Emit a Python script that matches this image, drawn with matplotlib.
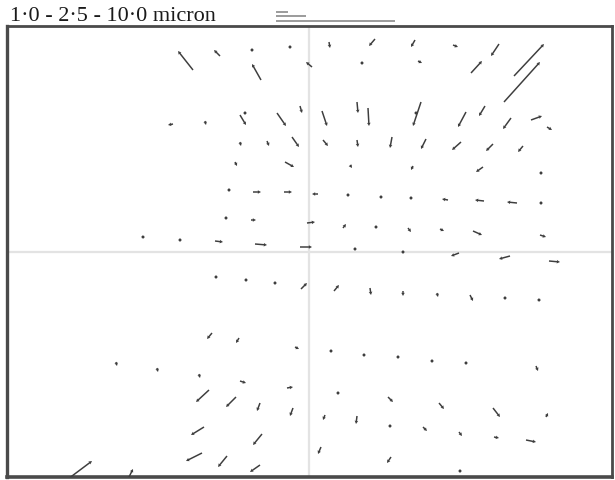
import matplotlib
matplotlib.use("Agg")
import matplotlib.pyplot as plt
import numpy as np

# Tail (x0, y0) and head (x1, y1) of each displacement vector, in image-pixel units
tails_x = [193, 220, 252, 290, 261, 312, 173, 205, 240, 245, 277, 300, 240, 267, 292, 235, 285, 229, 253, 284,
           226, 251, 143, 180, 215, 255, 300,
           329, 375, 415, 453, 499, 514, 504, 362, 418, 471, 322, 357, 368, 421, 416, 466, 485, 511, 531, 547,
           323, 357, 392, 426, 461, 493, 523, 350, 413, 483, 541, 318, 348, 381, 411, 448, 484, 517, 541,
           307, 343, 376, 408, 440, 473, 540, 355,
           403, 459, 510, 549, 301, 334, 370, 403, 437, 470, 505, 539, 331, 364, 398, 432, 466, 536,
           338, 388, 439, 493, 546, 325, 357, 390, 423, 459, 494, 526, 321, 391, 460,
           216, 246, 275, 212, 239, 295, 116, 157, 199, 240, 287, 209, 236, 260, 293, 204, 262, 202, 227, 260,
           60, 127]
tails_y = [71, 57, 51, 48, 81, 68, 125, 122, 116, 114, 114, 107, 143, 142, 138, 163, 163, 191, 193, 193,
           219, 221, 238, 241, 242, 245, 248,
           43, 40, 41, 46, 45, 77, 103, 64, 62, 74, 112, 103, 109, 103, 114, 113, 107, 119, 121, 128,
           141, 141, 138, 140, 143, 145, 147, 166, 167, 168, 174, 195, 196, 198, 199, 201, 202, 204, 204,
           224, 229, 228, 229, 230, 232, 236, 250,
           253, 254, 257, 262, 290, 292, 289, 292, 294, 296, 299, 301, 352, 356, 358, 362, 364, 367,
           394, 398, 404, 409, 418, 416, 417, 427, 428, 433, 438, 441, 448, 458, 472,
           278, 281, 284, 334, 339, 348, 363, 369, 375, 382, 389, 391, 398, 404, 409, 428, 435, 454, 457, 466,
           486, 482]
heads_x = [178, 214, 252, 290, 252, 306, 168, 206, 246, 245, 286, 302, 241, 269, 299, 237, 294, 229, 261, 292,
           226, 256, 146, 183, 223, 267, 312,
           330, 369, 411, 458, 491, 544, 540, 362, 422, 482, 327, 358, 369, 413, 416, 458, 479, 503, 542, 552,
           328, 358, 390, 421, 452, 486, 518, 352, 411, 476, 541, 312, 348, 381, 411, 442, 475, 507, 541,
           315, 346, 376, 411, 444, 482, 546, 355,
           403, 451, 499, 560, 307, 339, 371, 403, 438, 473, 505, 542, 331, 364, 398, 432, 466, 538,
           338, 393, 444, 500, 548, 323, 356, 393, 427, 462, 499, 536, 318, 387, 460,
           216, 246, 275, 207, 236, 299, 117, 158, 200, 246, 293, 196, 226, 257, 290, 191, 253, 186, 218, 250,
           92, 133]
heads_y = [52, 51, 51, 48, 65, 63, 126, 126, 126, 114, 127, 114, 147, 147, 148, 167, 168, 191, 193, 193,
           219, 221, 239, 241, 243, 246, 248,
           49, 47, 48, 48, 57, 45, 63, 64, 64, 62, 127, 114, 127, 127, 114, 128, 117, 130, 117, 131,
           147, 148, 149, 150, 151, 152, 153, 169, 171, 173, 174, 195, 196, 198, 199, 200, 201, 203, 204,
           223, 225, 228, 233, 232, 236, 238, 250,
           253, 257, 260, 263, 284, 286, 296, 297, 298, 302, 299, 302, 352, 356, 358, 362, 364, 372,
           394, 403, 410, 418, 414, 421, 425, 427, 432, 437, 439, 443, 455, 464, 472,
           278, 281, 284, 340, 344, 350, 367, 373, 379, 384, 388, 403, 408, 412, 417, 436, 446, 462, 468, 473,
           462, 470]

legend_lengths = [1.0, 2.5, 10.0]       # microns
px_per_micron = 11.9
title = "1\u00b70 - 2\u00b75 - 10\u00b70 micron"

x0 = np.array(tails_x, float)
y0 = np.array(tails_y, float)
u = np.array(heads_x, float) - x0
v = np.array(heads_y, float) - y0

fig = plt.figure(figsize=(6.15, 4.81), dpi=100)
W, H = 615, 481
ax = fig.add_axes([7 / W, (H - 478) / H, (612 - 7) / W, (478 - 27) / H])
ax.set_xlim(7, 612)
ax.set_ylim(478, 27)
ax.set_xticks([])
ax.set_yticks([])
for s in ax.spines.values():
    s.set_color("#4a4a4a")
    s.set_linewidth(2.0)
ax.spines["bottom"].set_linewidth(2.6)
ax.spines["left"].set_linewidth(2.4)

ax.axvline(309, color="#e3e3e3", lw=1.6, zorder=1)
ax.axhline(253, color="#e3e3e3", lw=1.6, zorder=1)

ax.quiver(x0, y0, u, v, angles="xy", scale_units="xy", scale=1,
          units="dots", width=1.5, headwidth=2.4, headlength=2.2, headaxislength=2.0,
          minshaft=1, minlength=2.2, color="#3e3e3e", zorder=3)

# scale legend above the frame
leg_y = [12.5, 17, 21.5]
for L, yy in zip(legend_lengths, leg_y):
    ax.plot([276, 276 + L * px_per_micron], [yy, yy], color="#808080", lw=1.1,
            clip_on=False, solid_capstyle="butt")

fig.text(10 / W, 1 - 21 / H, title, family="Liberation Serif", fontsize=16,
         va="baseline", ha="left", color="#1a1a1a")

fig.savefig("out.png", dpi=100)
